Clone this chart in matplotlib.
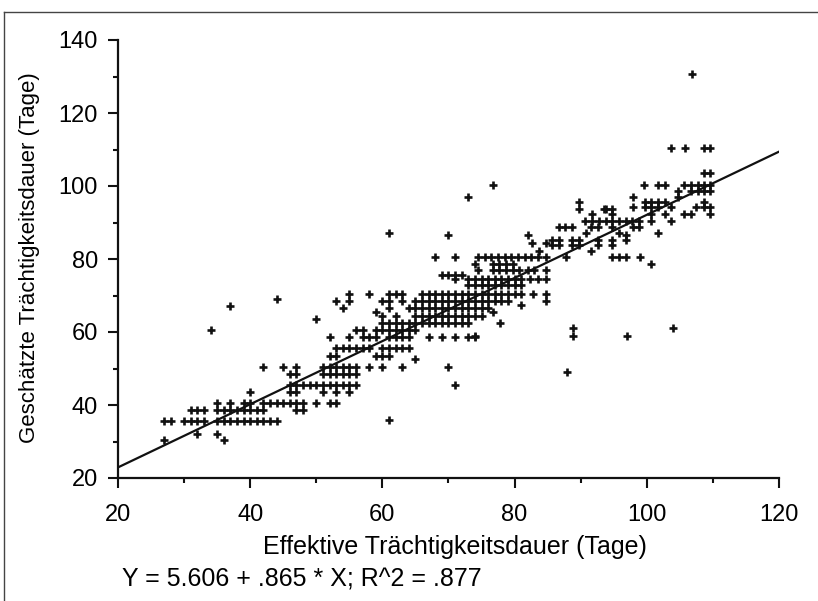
import numpy as np
import matplotlib.pyplot as plt
from matplotlib.lines import Line2D

plt.rcParams['font.family'] = ['Liberation Sans', 'DejaVu Sans']

# rows of points: estimated duration (y) -> effective durations (x)
row_y = [30.5, 32, 35.5, 36, 38.5, 40.5, 43.5, 45.5, 48.5, 49, 50.5, 52.5, 53.5, 55.5,
         58.5, 59, 60.5, 61, 62.5, 63.5, 64.5, 65.5, 66.5, 67, 67.4, 68.5, 69, 70.5,
         72.9, 74.5, 75.5, 77, 78.7, 80.5, 82.3, 83.8, 84.5, 85.2, 86.6, 87.2, 88.7,
         90.5, 92.2, 93.6, 94.2, 95.5, 97, 98.7, 100.4, 103.5, 110.3, 130.7]
row_x = [
    [27, 36],
    [32, 35],
    [27, 28, 30, 31, 32, 33, 35, 36, 37, 38, 39, 40, 41, 42, 43, 44],
    [61],
    [31, 32, 33, 35, 36, 37, 38, 39, 40, 41, 42, 47, 48],
    [35, 37, 39, 40, 42, 43, 44, 45, 46, 47, 48, 50, 52, 53],
    [40, 46, 47, 51, 53, 55],
    [46, 47, 48, 49, 50, 51, 52, 53, 54, 55, 56, 71],
    [46, 47, 51, 52, 53, 54, 55, 56],
    [88],
    [42, 45, 47, 51, 52, 53, 54, 55, 56, 58, 60, 63, 70],
    [65],
    [52, 53, 59, 60, 61],
    [53, 54, 55, 56, 57, 58, 60, 61, 62, 63, 64],
    [52, 55, 57, 58, 59, 61, 62, 63, 64, 67, 69, 71, 73, 74],
    [74, 88.8, 97],
    [34, 56, 57, 59, 60, 61, 62, 63, 64, 65],
    [88.8, 104],
    [60, 61, 62, 63, 64, 65, 66, 67, 68, 69, 70, 71, 72, 73, 77.8],
    [50],
    [60, 62, 65, 66, 67, 68, 69, 70, 71, 72, 73, 74, 75],
    [59, 76.7],
    [54, 61, 64, 65, 66, 67, 68, 69, 70, 71, 72, 73, 74, 75, 76],
    [37],
    [80.9],
    [53, 55, 60, 61, 63, 65, 66, 67, 68, 69, 70, 71, 72, 73, 74, 75, 76, 77, 78, 79, 84.7],
    [44],
    [55, 58, 61, 62, 63, 66, 67, 68, 69, 70, 71, 72, 73, 74, 75, 76, 77, 78, 79, 80, 81, 82.8, 84.7],
    [73, 74, 75, 76, 77, 78, 79, 80, 81],
    [71, 73, 74, 75, 76, 77, 78, 79, 80, 81, 82.3, 83.5, 84.8],
    [69, 70, 71, 72],
    [74.5, 76.7, 77.7, 78.7, 79.7, 80.7, 82, 83, 84.7],
    [74, 76.7, 77.7, 78.7, 79.7, 100.7],
    [68, 71, 74.5, 75.5, 76.5, 77.5, 78.5, 79.5, 80.5, 81.5, 82.5, 83.5, 84.7, 87.8, 94.8, 95.8, 96.8, 98.9],
    [83.7, 91.6],
    [85.7, 86.7, 88.7, 89.7, 92.6, 94.8],
    [82.7, 84.7],
    [85.7, 86.7, 88.7, 89.7, 92.6, 94.8, 96.8],
    [70, 82, 96.8],
    [61, 90.8, 95.8, 101.7],
    [86.7, 87.7, 88.7, 91.6, 92.6, 94.8, 97.9, 98.8],
    [90.6, 91.7, 92.8, 93.8, 94.8, 95.8, 96.8, 97.8, 98.8, 100.7, 103.7],
    [91.7, 94.8, 100.7, 102.7, 105.7, 106.7, 109.5],
    [89.8, 93.6, 93.8, 94.8],
    [97.9, 99.7, 100.7, 101.7, 103.7, 107.5, 108.6, 109.5],
    [89.8, 99.7, 100.7, 101.7, 102.7, 108.6],
    [73, 97.9, 104.7],
    [104.7, 106.7, 107.7, 108.6, 109.5],
    [76.8, 99.6, 101.7, 102.7, 105.7, 106.7, 107.7, 108.7, 109.5],
    [108.6, 109.5],
    [103.7, 105.8, 108.6, 109.5],
    [106.9],
]

# regression line from the chart
intercept = 5.606
slope = 0.865
equation = "Y = 5.606 + .865 * X; R^2 = .877"

xs = []
ys = []
for y, row in zip(row_y, row_x):
    for x in row:
        xs.append(x)
        ys.append(y)

fig = plt.figure(figsize=(8.18, 6.01), dpi=100)
ax = fig.add_axes([118/818, 1 - 478/601, 661/818, 438/601])

ax.plot(xs, ys, linestyle='none', marker='+', ms=6, mew=1.9, color='#111111')
line_x = np.array([20, 120])
ax.plot(line_x, intercept + slope*line_x, color='#111111', lw=1.6)

ax.set_xlim(20, 120)
ax.set_ylim(20, 140)
ax.set_xticks(range(20, 121, 20))
ax.set_xticks(range(30, 120, 20), minor=True)
ax.set_yticks(range(20, 141, 20))
ax.set_yticks(range(30, 140, 20), minor=True)
for s in ['top', 'right']:
    ax.spines[s].set_visible(False)
for s in ['left', 'bottom']:
    ax.spines[s].set_linewidth(1.6)
    ax.spines[s].set_color('#111111')
ax.tick_params(which='major', length=7.5, width=1.5, labelsize=17, color='#111111')
ax.tick_params(which='minor', length=3.8, width=1.5, color='#111111')
ax.tick_params(axis='x', which='major', pad=11)
ax.tick_params(axis='y', which='major', pad=7)

fig.text(455/818, 1 - 547/601, "Effektive Trächtigkeitsdauer (Tage)", ha='center', va='center', fontsize=18)
fig.text(30/818, 1 - 258/601, "Geschätzte Trächtigkeitsdauer (Tage)", ha='center', va='center',
         rotation=90, fontsize=16)
fig.text(122/818, 1 - 580/601, equation, ha='left', va='center', fontsize=18)

# frame of the original figure
fig.add_artist(Line2D([4/818, 4/818], [0, 1 - 12/601], color='#444444', lw=1))
fig.add_artist(Line2D([4/818, 1], [1 - 12/601, 1 - 12/601], color='#444444', lw=1))

fig.savefig('out.png', dpi=100)
